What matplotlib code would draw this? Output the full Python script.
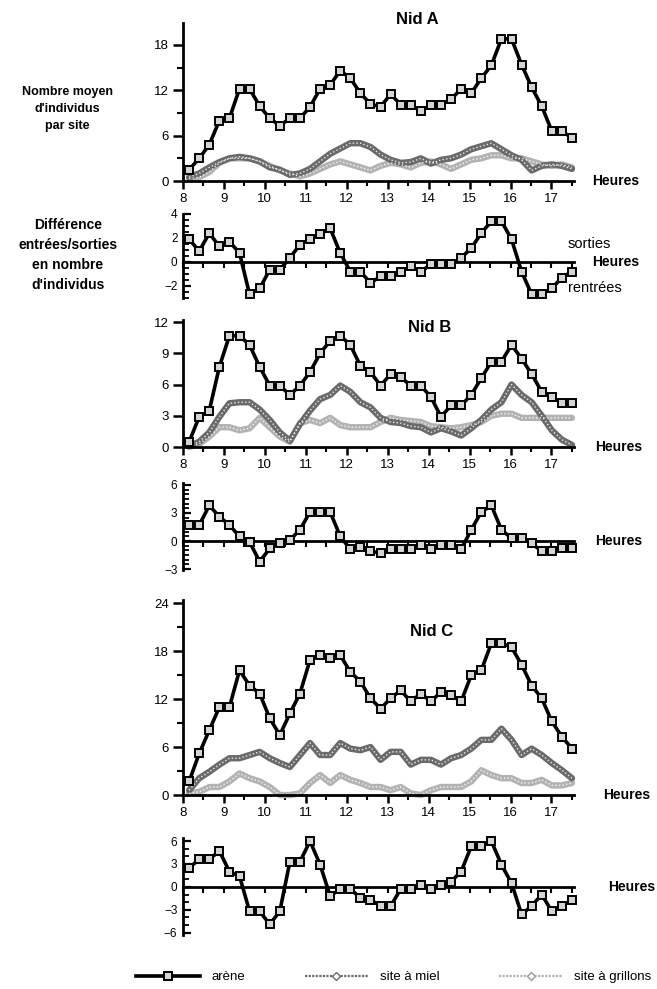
import numpy as np
import matplotlib
matplotlib.use('Agg')
import matplotlib.pyplot as plt
from matplotlib.lines import Line2D
from matplotlib.ticker import MultipleLocator, FixedLocator
import matplotlib.transforms as mtransforms

plt.rcParams['font.family'] = ['Liberation Sans', 'DejaVu Sans']

# ---------------- data ----------------
hours = np.linspace(8.15, 17.5, 39)        # 39 observation times, as placed on the original axis
hour_ticks = [8, 9, 10, 11, 12, 13, 14, 15, 16, 17]
hour_labels = ['8', '9', '10', '11', '12', '13', '14', '15', '16', '17']

nidA_arene = [1.5, 3.0, 4.8, 8.0, 8.3, 12.2, 12.2, 9.9, 8.3, 7.3, 8.3, 8.3, 9.8, 12.2, 12.7,
              14.6, 13.6, 11.6, 10.2, 9.8, 11.5, 10.1, 10.1, 9.2, 10.1, 10.1, 10.8, 12.2, 11.6,
              13.6, 15.3, 18.8, 18.8, 15.4, 12.4, 9.9, 6.6, 6.6, 5.7]
nidA_miel = [0.5, 1.0, 1.8, 2.5, 3.0, 3.2, 3.0, 2.6, 1.8, 1.5, 0.8, 1.0, 1.6, 2.6, 3.6, 4.3,
             5.0, 5.0, 4.5, 3.5, 2.8, 2.4, 2.5, 3.0, 2.3, 2.8, 3.0, 3.5, 4.2, 4.6, 5.0, 4.2,
             3.4, 2.8, 1.4, 2.0, 2.2, 2.0, 1.6]
nidA_grillons = [0.3, 0.5, 1.2, 2.4, 3.0, 3.0, 3.0, 2.6, 2.0, 1.4, 1.0, 0.6, 1.0, 1.6, 2.2,
                 2.6, 2.2, 1.8, 1.4, 2.0, 2.4, 2.2, 1.8, 2.4, 2.6, 2.2, 1.6, 2.2, 2.8, 3.0,
                 3.4, 3.4, 3.0, 3.0, 2.6, 2.2, 2.0, 2.2, 1.8]
nidA_diff = [1.9, 0.9, 2.4, 1.3, 1.7, 0.75, -2.7, -2.2, -0.65, -0.65, 0.35, 1.45, 1.9, 2.3,
             2.8, 0.75, -0.8, -0.8, -1.75, -1.2, -1.2, -0.8, -0.35, -0.8, -0.2, -0.2, -0.2,
             0.35, 1.15, 2.4, 3.4, 3.4, 1.9, -0.8, -2.7, -2.7, -2.2, -1.3, -0.8]

nidB_arene = [0.5, 2.9, 3.5, 7.7, 10.7, 10.7, 9.8, 7.7, 5.9, 5.9, 5.0, 5.9, 7.2, 9.0, 10.2,
              10.7, 9.8, 7.8, 7.2, 5.9, 7.0, 6.7, 5.9, 5.9, 4.8, 2.9, 4.0, 4.0, 5.0, 6.6,
              8.2, 8.2, 9.8, 8.5, 7.0, 5.3, 4.8, 4.2, 4.2]
nidB_miel = [0.1, 0.5, 1.4, 2.9, 4.2, 4.3, 4.3, 3.6, 2.6, 1.4, 0.6, 2.2, 3.5, 4.6, 5.0, 5.9,
             5.3, 4.3, 3.8, 2.8, 2.4, 2.3, 2.0, 1.9, 1.4, 1.8, 1.5, 1.1, 1.8, 2.6, 3.6, 4.3,
             6.0, 5.0, 4.3, 3.0, 1.6, 0.7, 0.2]
nidB_grillons = [0.0, 0.3, 1.0, 1.9, 1.9, 1.6, 1.8, 2.8, 1.9, 1.0, 0.5, 2.3, 2.6, 2.3, 2.8,
                 2.1, 1.9, 1.9, 1.9, 2.4, 2.8, 2.6, 2.5, 2.4, 2.0, 1.9, 1.8, 1.9, 2.1, 2.4,
                 3.0, 3.2, 3.2, 2.8, 2.8, 2.8, 2.8, 2.8, 2.8]
nidB_diff = [1.7, 1.7, 3.8, 2.6, 1.7, 0.5, -0.1, -2.2, -0.8, -0.25, 0.1, 1.2, 3.1, 3.1, 3.1,
             0.5, -0.9, -0.6, -1.1, -1.3, -0.9, -0.9, -0.9, -0.4, -0.9, -0.4, -0.4, -0.9,
             1.2, 3.1, 3.8, 1.2, 0.3, 0.3, -0.25, -1.1, -1.1, -0.8, -0.8]

nidC_arene = [1.7, 5.2, 8.1, 11.0, 11.0, 15.6, 13.7, 12.7, 9.6, 7.5, 10.2, 12.7, 16.9, 17.5,
              17.1, 17.5, 15.4, 14.2, 12.1, 10.8, 12.1, 13.1, 11.7, 12.7, 11.7, 12.9, 12.5,
              11.7, 15.0, 15.6, 19.0, 19.0, 18.5, 16.3, 13.7, 12.1, 9.2, 7.3, 5.8]
nidC_miel = [0.6, 2.1, 2.9, 3.8, 4.6, 4.6, 5.0, 5.4, 4.6, 4.0, 3.5, 5.0, 6.5, 5.0, 5.0, 6.5,
             5.8, 5.6, 6.0, 4.4, 5.4, 5.4, 3.8, 4.4, 4.4, 3.8, 4.6, 5.0, 5.8, 6.9, 6.9, 8.3,
             6.9, 5.0, 5.8, 5.0, 4.0, 3.1, 2.1]
nidC_grillons = [0.2, 0.4, 1.0, 1.0, 1.7, 2.7, 2.1, 1.7, 1.0, 0.0, 0.0, 0.2, 1.5, 2.5, 1.5,
                 2.5, 1.9, 1.5, 1.0, 1.0, 0.6, 1.0, 0.2, 0.0, 0.6, 1.0, 1.0, 1.0, 1.7, 3.1,
                 2.5, 2.1, 2.1, 1.5, 1.5, 1.9, 1.2, 1.2, 1.5]
nidC_diff = [2.5, 3.6, 3.6, 4.7, 2.0, 1.4, -3.2, -3.2, -4.9, -3.2, 3.3, 3.3, 6.0, 2.9, -1.2,
             -0.3, -0.3, -1.4, -1.7, -2.5, -2.5, -0.3, -0.3, 0.3, -0.3, 0.3, 0.7, 2.0, 5.3,
             5.3, 6.0, 2.9, 0.5, -3.6, -2.5, -1.0, -3.2, -2.5, -1.7]

series_labels = ['arène', 'site à miel', 'site à grillons']
nest_titles = ['Nid A', 'Nid B', 'Nid C']

# ---------------- styles ----------------
W, H = 657, 989
fig = plt.figure(figsize=(W / 100, H / 100), dpi=100)
fig.patch.set_facecolor('white')

ARENE = dict(color='black', lw=2.6, marker='s', ms=6, mfc='#d4d4d4', mec='black',
             mew=1.4, zorder=4, clip_on=False)
MIEL_C = '#6a6a6a'
GRIL_C = '#b3b3b3'


def fx(x):
    return x / W


def fy(y):
    return 1 - y / H


def px_axes(top, bottom, left=183, right=574):
    ax = fig.add_axes([left / W, 1 - bottom / H, (right - left) / W, (bottom - top) / H])
    ax.patch.set_alpha(0)
    return ax


def site_line(ax, y, color):
    ax.plot(hours, y, color=color, lw=4.6, solid_joinstyle='round',
            solid_capstyle='round', zorder=2, clip_on=False)
    ax.plot(hours, y, color='white', lw=1.0, ls=(0, (1, 1.6)), alpha=0.85,
            zorder=2.1, clip_on=False)


def setup_top(ax, ylim, major, minor):
    ax.set_xlim(8, 17.55)
    ax.set_ylim(*ylim)
    for s in ['top', 'right']:
        ax.spines[s].set_visible(False)
    ax.spines['left'].set_linewidth(2)
    ax.spines['bottom'].set_linewidth(2)
    ax.xaxis.set_major_locator(FixedLocator(hour_ticks))
    ax.set_xticklabels(hour_labels)
    ax.xaxis.set_minor_locator(MultipleLocator(0.5))
    ax.tick_params(axis='x', which='major', direction='out', length=6, width=1.8,
                   labelsize=9.5, pad=2.5)
    ax.tick_params(axis='x', which='minor', direction='out', length=3.5, width=1.5)
    ax.yaxis.set_major_locator(MultipleLocator(major))
    if minor:
        ax.yaxis.set_minor_locator(MultipleLocator(minor))
    ax.tick_params(axis='y', which='major', direction='out', length=7, width=1.8,
                   labelsize=9.5, pad=3)
    ax.tick_params(axis='y', which='minor', direction='out', length=4, width=1.5)


def setup_diff(ax, ylim, major, minor, ylabels_size=8.5):
    ax.set_xlim(8, 17.55)
    ax.set_ylim(*ylim)
    for s in ['top', 'right']:
        ax.spines[s].set_visible(False)
    ax.spines['left'].set_linewidth(2)
    ax.spines['bottom'].set_linewidth(2)
    ax.spines['bottom'].set_position(('data', 0))
    ax.xaxis.set_major_locator(FixedLocator(hour_ticks))
    ax.xaxis.set_minor_locator(MultipleLocator(0.5))
    ax.tick_params(axis='x', which='both', direction='out', length=4, width=1.5,
                   labelbottom=False)
    ax.yaxis.set_major_locator(MultipleLocator(major))
    ax.yaxis.set_minor_locator(MultipleLocator(minor))
    ax.tick_params(axis='y', which='major', direction='in', length=6, width=1.6,
                   labelsize=ylabels_size, pad=4)
    ax.tick_params(axis='y', which='minor', direction='in', length=4, width=1.3)


def heures(ax, xfrac, size=10):
    tr = mtransforms.blended_transform_factory(ax.transAxes, ax.transData)
    ax.text(xfrac, 0, 'Heures', transform=tr, ha='left', va='center',
            fontsize=size, fontweight='bold')


# ---------------- Nid A ----------------
axA = px_axes(23, 181)
setup_top(axA, (0, 20.9), 6, 3)
site_line(axA, nidA_grillons, GRIL_C)
site_line(axA, nidA_miel, MIEL_C)
axA.plot(hours, nidA_arene, **ARENE)
heures(axA, (592 - 183) / 391)
fig.text(fx(417), fy(20), nest_titles[0], ha='center', va='center', fontsize=12,
         fontweight='bold')

axAd = px_axes(214, 298)
setup_diff(axAd, (-3.0, 4.0), 2, 0.5)
axAd.plot(hours, nidA_diff, **ARENE)
heures(axAd, (592 - 183) / 391)
fig.text(fx(568), fy(244), 'sorties', ha='left', va='center', fontsize=10.5)
fig.text(fx(568), fy(288), 'rentrées', ha='left', va='center', fontsize=10.5)

# ---------------- Nid B ----------------
axB = px_axes(320, 447)
setup_top(axB, (0, 12.2), 3, None)
site_line(axB, nidB_grillons, GRIL_C)
site_line(axB, nidB_miel, MIEL_C)
axB.plot(hours, nidB_arene, **ARENE)
heures(axB, (595 - 183) / 391)
fig.text(fx(430), fy(327), nest_titles[1], ha='center', va='center', fontsize=12,
         fontweight='bold')

axBd = px_axes(483, 570)
setup_diff(axBd, (-3.1, 6.2), 3, 0.5)
axBd.plot(hours, nidB_diff, **ARENE)
heures(axBd, (595 - 183) / 391)

# ---------------- Nid C ----------------
axC = px_axes(600, 795)
setup_top(axC, (0, 24.4), 6, 3)
site_line(axC, nidC_grillons, GRIL_C)
site_line(axC, nidC_miel, MIEL_C)
axC.plot(hours, nidC_arene, **ARENE)
heures(axC, (603 - 183) / 391)
fig.text(fx(432), fy(632), nest_titles[2], ha='center', va='center', fontsize=12,
         fontweight='bold')

axCd = px_axes(838, 935)
setup_diff(axCd, (-6.3, 6.4), 3, 1)
axCd.plot(hours, nidC_diff, **ARENE)
heures(axCd, (608 - 183) / 391)

# ---------------- left labels ----------------
fig.text(fx(67), fy(109), "Nombre moyen\nd'individus\npar site", ha='center',
         va='center', fontsize=9, fontweight='bold', linespacing=1.6)
fig.text(fx(68), fy(255), "Différence\nentrées/sorties\nen nombre\nd'individus",
         ha='center', va='center', fontsize=10, fontweight='bold', linespacing=1.55)

# ---------------- legend ----------------
handles = [
    Line2D([], [], color='black', lw=2.6, marker='s', ms=6, mfc='#d4d4d4', mec='black',
           mew=1.4),
    Line2D([], [], color=MIEL_C, lw=1.6, ls=(0, (1, 0.6)), marker='D', ms=4, mfc='white',
           mec=MIEL_C),
    Line2D([], [], color=GRIL_C, lw=1.6, ls=(0, (1, 0.6)), marker='D', ms=4.5, mfc='white',
           mec='#999999'),
]
fig.legend(handles, series_labels, loc='center', bbox_to_anchor=(fx(394), fy(977)),
           ncol=3, frameon=False, fontsize=9.5, handlelength=4.8, handletextpad=0.9,
           columnspacing=4.5, numpoints=1)

fig.savefig('out.png', dpi=100, facecolor='white')
